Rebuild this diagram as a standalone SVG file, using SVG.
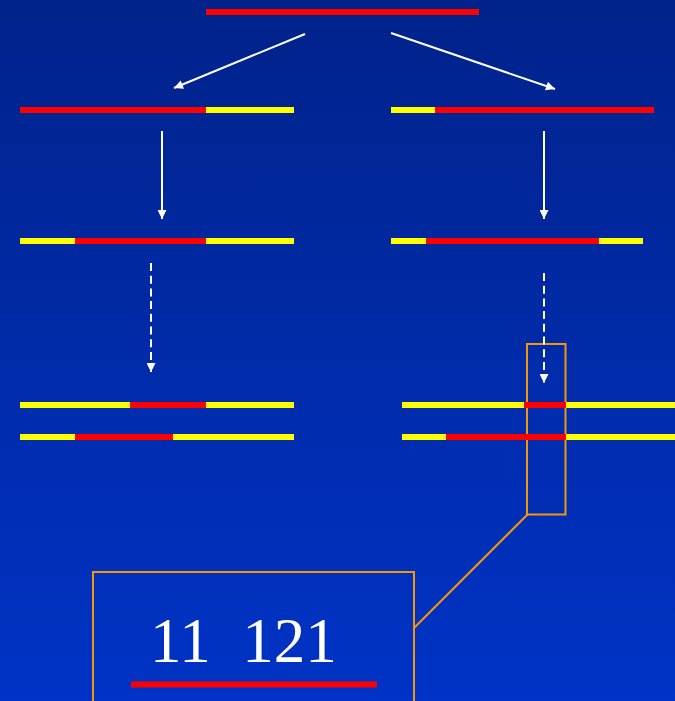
<svg xmlns="http://www.w3.org/2000/svg" width="675" height="701" viewBox="0 0 675 701">
<defs>
<linearGradient id="bg" x1="0" y1="0" x2="0" y2="1">
<stop offset="0" stop-color="#00228A"/>
<stop offset="1" stop-color="#0033C6"/>
</linearGradient>
<marker id="ah" viewBox="0 0 10 10" refX="10" refY="5" markerWidth="10" markerHeight="9" markerUnits="userSpaceOnUse" orient="auto">
<path d="M0,0 L10,5 L0,10 z" fill="#FFFFFF"/>
</marker>
<style>
.r{stroke:#FF0000;stroke-width:6;fill:none}
.y{stroke:#FFFF00;stroke-width:6;fill:none}
.a{stroke:#FFFFFF;stroke-width:2;fill:none;marker-end:url(#ah)}
.d{stroke-dasharray:8 4.7}
.o{stroke:#F5960A;stroke-width:2;fill:none}
.t{font-family:"Liberation Serif","Times New Roman",serif;font-size:63px;fill:#FFFFFF}
</style>
</defs>
<rect x="0" y="0" width="675" height="701" fill="url(#bg)"/>

<g id="zoom-frame">
<rect class="o" x="527" y="344" width="38.5" height="170.5"/>
</g>

<g id="top">
<line class="r" x1="206" y1="12" x2="479" y2="12"/>
</g>

<g id="left-1">
<line class="r" x1="20" y1="110" x2="206" y2="110"/>
<line class="y" x1="206" y1="110" x2="294" y2="110"/>
</g>
<g id="right-1">
<line class="y" x1="391" y1="110" x2="435" y2="110"/>
<line class="r" x1="435" y1="110" x2="654" y2="110"/>
</g>

<g id="left-2">
<line class="y" x1="20" y1="241" x2="75" y2="241"/>
<line class="r" x1="75" y1="241" x2="206" y2="241"/>
<line class="y" x1="206" y1="241" x2="294" y2="241"/>
</g>
<g id="right-2">
<line class="y" x1="391" y1="241" x2="426" y2="241"/>
<line class="r" x1="426" y1="241" x2="599" y2="241"/>
<line class="y" x1="599" y1="241" x2="643" y2="241"/>
</g>

<g id="left-3">
<line class="y" x1="20" y1="405" x2="130" y2="405"/>
<line class="r" x1="130" y1="405" x2="206" y2="405"/>
<line class="y" x1="206" y1="405" x2="294" y2="405"/>
<line class="y" x1="20" y1="437" x2="75" y2="437"/>
<line class="r" x1="75" y1="437" x2="173" y2="437"/>
<line class="y" x1="173" y1="437" x2="294" y2="437"/>
</g>
<g id="right-3">
<line class="y" x1="402" y1="405" x2="524" y2="405"/>
<line class="r" x1="524" y1="405" x2="566" y2="405"/>
<line class="y" x1="566" y1="405" x2="675" y2="405"/>
<line class="y" x1="402" y1="437" x2="446" y2="437"/>
<line class="r" x1="446" y1="437" x2="566" y2="437"/>
<line class="y" x1="566" y1="437" x2="675" y2="437"/>
</g>

<g id="detail">
<rect class="o" x="93" y="572" width="321" height="140"/>
<text class="t" x="150" y="662" xml:space="preserve">11  121</text>
<line class="r" x1="131" y1="684.5" x2="377" y2="684.5"/>
</g>

<g id="connectors">
<line class="a" x1="305" y1="34" x2="174" y2="88"/>
<line class="a" x1="391" y1="33" x2="555" y2="89"/>
<line class="a" x1="162" y1="131" x2="162" y2="219"/>
<line class="a" x1="544" y1="131" x2="544" y2="219"/>
<line class="a d" x1="151" y1="263" x2="151" y2="372"/>
<line class="a d" x1="544" y1="273" x2="544" y2="383"/>
<line class="o" x1="528" y1="514" x2="414" y2="628"/>
</g>
</svg>
